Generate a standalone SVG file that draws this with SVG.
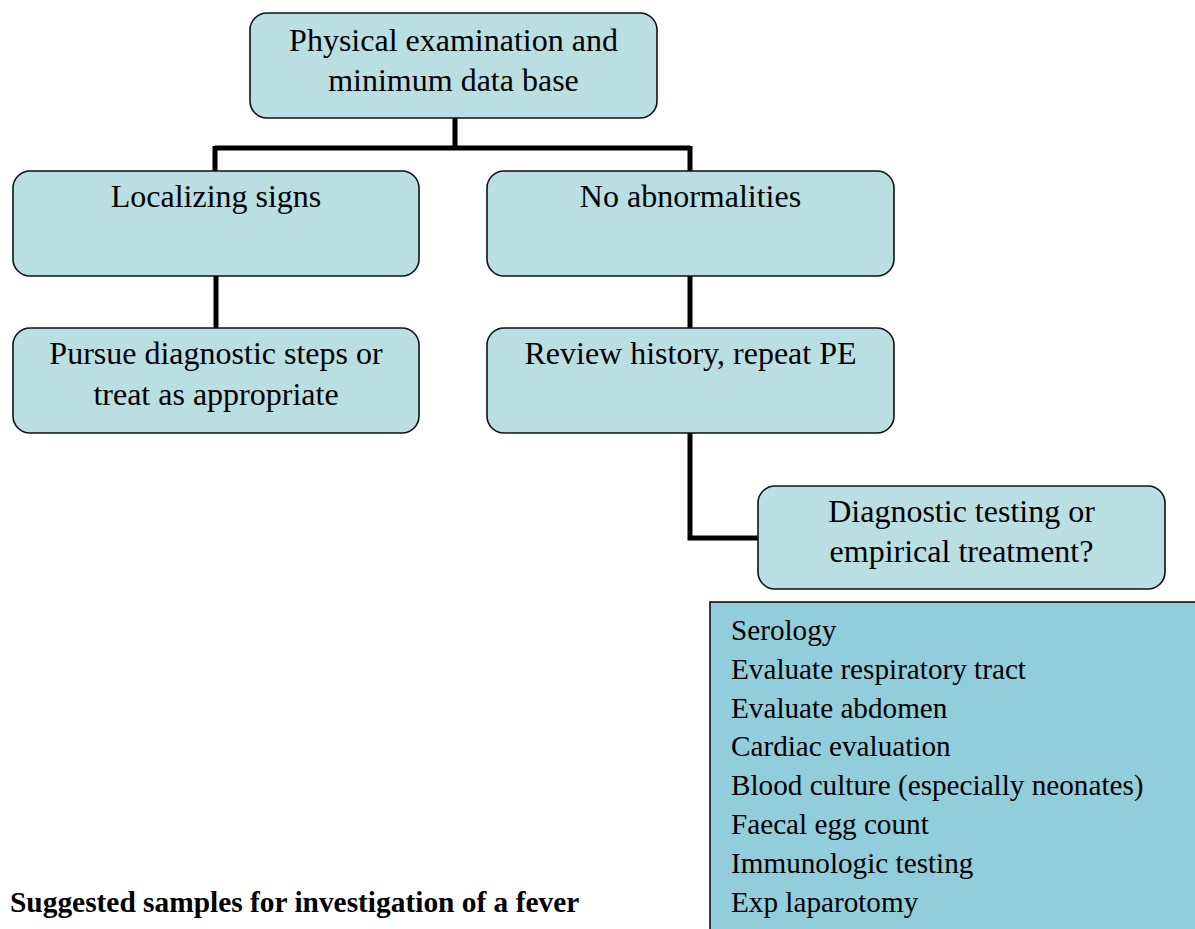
<svg xmlns="http://www.w3.org/2000/svg" width="1195" height="929" viewBox="0 0 1195 929">
<style>
.box{fill:#B9DFE3;stroke:#111;stroke-width:1.6}
.list{fill:#92CDDC;stroke:#111;stroke-width:1.6}
.t{font-family:"Liberation Serif","Times New Roman",serif;font-size:32px;fill:#000;text-anchor:middle}
.l{font-family:"Liberation Serif","Times New Roman",serif;font-size:29.2px;fill:#000}
.title{font-family:"Liberation Serif","Times New Roman",serif;font-size:29.4px;font-weight:bold;fill:#000}
.c{fill:none;stroke:#000;stroke-width:5}
</style>
<rect width="1195" height="929" fill="#fff"/>
<g id="connectors">
<path class="c" d="M455,118 V148 M215,148 H690 M215,146 V171 M690,146 V171"/>
<path class="c" d="M216,276 V328"/>
<path class="c" d="M690,276 V328"/>
<path class="c" d="M690,433 V538 H758"/>
</g>
<g id="n-physical">
<rect class="box" x="250" y="13" width="407" height="105" rx="17"/>
<text class="t" x="453.5" y="51">Physical examination and</text>
<text class="t" x="453.5" y="91">minimum data base</text>
</g>
<g id="n-localizing">
<rect class="box" x="13" y="171" width="406" height="105" rx="17"/>
<text class="t" x="216" y="207">Localizing signs</text>
</g>
<g id="n-noabn">
<rect class="box" x="487" y="171" width="407" height="105" rx="17"/>
<text class="t" x="690.5" y="207">No abnormalities</text>
</g>
<g id="n-pursue">
<rect class="box" x="13" y="328" width="406" height="105" rx="17"/>
<text class="t" x="216" y="364">Pursue diagnostic steps or</text>
<text class="t" x="216" y="405">treat as appropriate</text>
</g>
<g id="n-review">
<rect class="box" x="487" y="328" width="407" height="105" rx="17"/>
<text class="t" x="690.5" y="364">Review history, repeat PE</text>
</g>
<g id="n-diagnostic">
<rect class="box" x="758" y="486" width="407" height="103" rx="17"/>
<text class="t" x="961.5" y="522">Diagnostic testing or</text>
<text class="t" x="961.5" y="562">empirical treatment?</text>
</g>
<g id="n-list">
<rect class="list" x="710" y="602" width="500" height="340"/>
<text class="l" x="731" y="640">Serology</text>
<text class="l" x="731" y="679">Evaluate respiratory tract</text>
<text class="l" x="731" y="718">Evaluate abdomen</text>
<text class="l" x="731" y="756">Cardiac evaluation</text>
<text class="l" x="731" y="795">Blood culture (especially neonates)</text>
<text class="l" x="731" y="834">Faecal egg count</text>
<text class="l" x="731" y="873">Immunologic testing</text>
<text class="l" x="731" y="912">Exp laparotomy</text>
</g>
<g id="caption">
<text class="title" x="10" y="912">Suggested samples for investigation of a fever</text>
</g>
</svg>
